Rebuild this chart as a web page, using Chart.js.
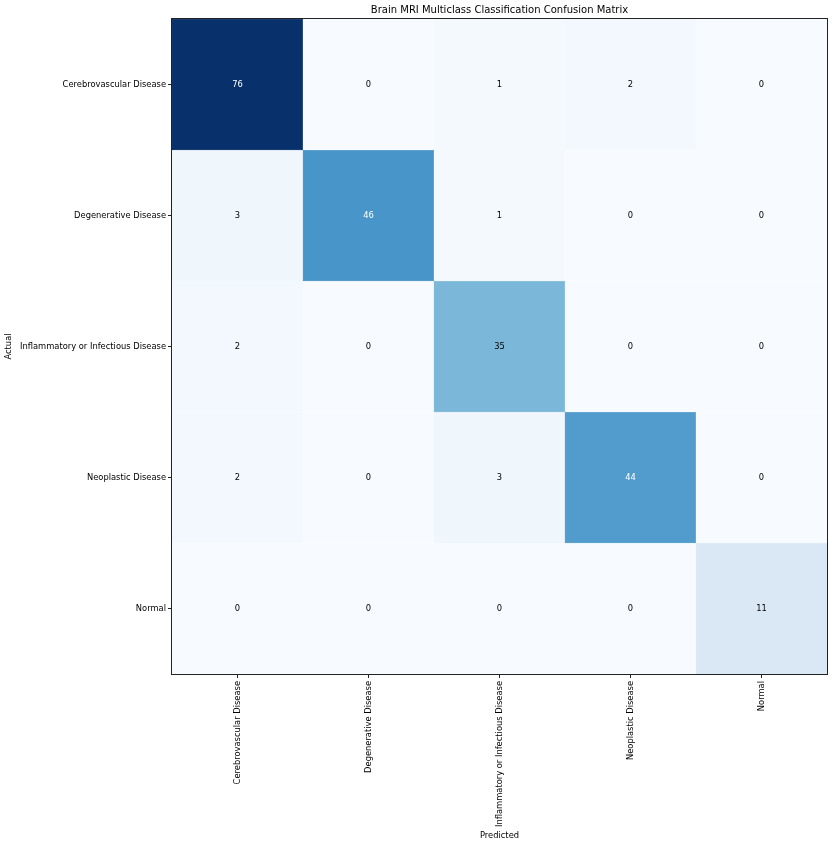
<!DOCTYPE html>
<html>
<head>
<meta charset="utf-8">
<script src="https://cdn.jsdelivr.net/npm/chart.js@4"></script>
<style>
  html, body { margin: 0; padding: 0; background: #fff; }
  #wrap { width: 833px; height: 846px; }
</style>
</head>
<body>
<div id="wrap"><canvas id="cm"></canvas></div>
<script>
// class names (x = predicted, y = actual)
const classes = ['Cerebrovascular Disease', 'Degenerative Disease', 'Inflammatory or Infectious Disease', 'Neoplastic Disease', 'Normal'];

// rows of the confusion matrix, one per actual class
const cerebrovascular = [76, 0, 1, 2, 0];
const degenerative = [3, 46, 1, 0, 0];
const inflammatory = [2, 0, 35, 0, 0];
const neoplastic = [2, 0, 3, 44, 0];
const normal = [0, 0, 0, 0, 11];

const rows = [cerebrovascular, degenerative, inflammatory, neoplastic, normal];

//---------------------------------------------------------------------------
// matplotlib "Blues" colormap
const BLUES = ['#f7fbff', '#deebf7', '#c6dbef', '#9ecae1', '#6baed6', '#4292c6', '#2171b5', '#08519c', '#08306b'];
const hex = (h) => [1, 3, 5].map(i => parseInt(h.substr(i, 2), 16));
function blues(t) {
    t = Math.max(0, Math.min(1, t));
    const p = t * (BLUES.length - 1);
    const i = Math.min(Math.floor(p), BLUES.length - 2);
    const f = p - i;
    const a = hex(BLUES[i]), b = hex(BLUES[i + 1]);
    const c = a.map((v, k) => Math.round(v + (b[k] - v) * f));
    return 'rgb(' + c.join(',') + ')';
}

const vmax = Math.max(...rows.flat());
const vmin = Math.min(...rows.flat());
const thresh = (vmax + vmin) / 2;

const FONT = 'DejaVu Sans';
const INK = '#222';

// one floating-bar dataset per actual row
const datasets = rows.map((row, r) => ({
    label: classes[r],
    data: row.map(() => [r, r + 1]),
    counts: row,
    backgroundColor: row.map(v => blues((v - vmin) / (vmax - vmin))),
    borderColor: row.map(v => blues((v - vmin) / (vmax - vmin))),
    borderWidth: 0.5,
    borderSkipped: false,
    barPercentage: 1,
    categoryPercentage: 1,
    grouped: false
}));

//---------------------------------------------------------------------------
const cellText = {
    id: 'cellText',
    afterDatasetsDraw(chart) {
        const { ctx, scales: { x, y } } = chart;
        ctx.save();
        ctx.font = '8.33px "' + FONT + '"';
        ctx.textAlign = 'center';
        ctx.textBaseline = 'middle';
        chart.data.datasets.forEach((ds, r) => {
            ds.counts.forEach((v, c) => {
                ctx.fillStyle = v > thresh ? '#ffffff' : '#000000';
                ctx.fillText(String(v), x.getPixelForValue(c), y.getPixelForValue(r + 0.5) + 0.5);
            });
        });
        ctx.restore();
    }
};

const frameAndTitle = {
    id: 'frameAndTitle',
    afterDraw(chart) {
        const { ctx, chartArea: a } = chart;
        ctx.save();
        ctx.strokeStyle = INK;
        ctx.lineWidth = 1;
        ctx.strokeRect(Math.round(a.left) - 0.5, Math.round(a.top) - 0.5, Math.round(a.right - a.left) + 1, Math.round(a.bottom - a.top) + 1);
        ctx.fillStyle = '#000';
        ctx.font = '10px "' + FONT + '"';
        ctx.textAlign = 'center';
        ctx.textBaseline = 'middle';
        ctx.fillText('Brain MRI Multiclass Classification Confusion Matrix', (a.left + a.right) / 2, 10);
        ctx.restore();
    }
};

//---------------------------------------------------------------------------
new Chart(document.getElementById('cm'), {
    type: 'bar',
    data: { labels: classes, datasets: datasets },
    options: {
        responsive: true,
        maintainAspectRatio: false,
        animation: false,
        layout: { padding: { top: 19, right: 6, left: 0, bottom: 0 } },
        plugins: {
            legend: { display: false },
            tooltip: { enabled: false },
            title: { display: false }
        },
        scales: {
            x: {
                type: 'category',
                offset: true,
                grid: { offset: false, drawOnChartArea: false, drawTicks: true, tickLength: 4, color: INK },
                border: { display: false },
                ticks: {
                    autoSkip: false, maxRotation: 90, minRotation: 90, padding: 3,
                    color: '#000', font: { family: FONT, size: 8.33 }
                },
                title: {
                    display: true, text: 'Predicted', color: '#000',
                    font: { family: FONT, size: 8.33 }, padding: { top: 4, bottom: 5 }
                },
                afterFit(scale) { scale.height = 172; }
            },
            y: {
                type: 'linear',
                min: 0,
                max: classes.length,
                reverse: true,
                afterBuildTicks(scale) {
                    scale.ticks = classes.map((_, i) => ({ value: i + 0.5 }));
                },
                grid: { drawOnChartArea: false, drawTicks: true, tickLength: 4, color: INK },
                border: { display: false },
                ticks: {
                    padding: 2, color: '#000', font: { family: FONT, size: 8.33 },
                    callback: (v) => classes[Math.floor(v)]
                },
                title: {
                    display: true, text: 'Actual', color: '#000',
                    font: { family: FONT, size: 8.33 }, padding: 4
                },
                afterFit(scale) { scale.width = 172; }
            }
        }
    },
    plugins: [cellText, frameAndTitle]
});
</script>
</body>
</html>
